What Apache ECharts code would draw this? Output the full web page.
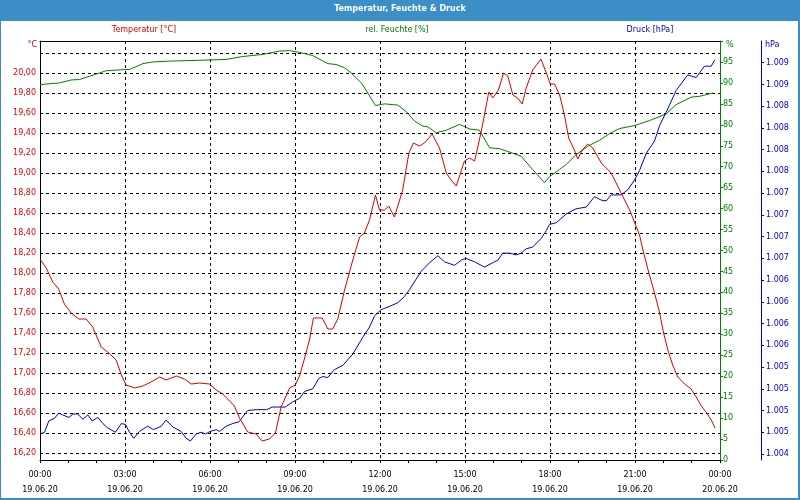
<!DOCTYPE html>
<html><head><meta charset="utf-8">
<script src="https://cdn.jsdelivr.net/npm/echarts@6/dist/echarts.min.js"></script>
<style>html,body{margin:0;padding:0;background:#fff}#c{width:800px;height:500px}</style>
</head><body><div id="c"></div>
<script>
const chartTitle = 'Temperatur, Feuchte & Druck';
const seriesNames = ['Temperatur [°C]', 'rel. Feuchte [%]', 'Druck [hPa]'];
const unitLabels = ['°C', '%', 'hPa'];
const timeLabels = ['00:00','03:00','06:00','09:00','12:00','15:00','18:00','21:00','00:00'];
const dateLabels = ['19.06.20','19.06.20','19.06.20','19.06.20','19.06.20','19.06.20','19.06.20','19.06.20','20.06.20'];

const tempHours = [0,0.22,0.45,0.66,0.86,1.10,1.37,1.63,1.86,2.16,
 2.39,2.69,2.87,3.04,3.34,3.63,3.92,4.22,4.45,4.81,
 5.10,5.34,5.63,5.98,6.22,6.45,6.69,6.86,7.04,7.33,
 7.63,7.84,8.10,8.31,8.51,8.81,9.01,9.16,9.34,9.51,
 9.65,9.96,10.16,10.33,10.51,10.75,11.04,11.28,11.45,11.63,
 11.84,11.98,12.16,12.31,12.51,12.80,13.02,13.18,13.39,13.57,
 13.84,14.10,14.34,14.51,14.69,14.98,15.16,15.34,15.57,15.84,
 15.98,16.18,16.36,16.51,16.69,16.86,17.02,17.16,17.39,17.68,
 17.87,18.01,18.16,18.34,18.51,18.66,18.86,18.98,19.14,19.33,
 19.51,19.81,20.16,20.51,20.81,20.98,21.16,21.28,21.49,21.69,
 21.87,22.01,22.16,22.33,22.51,22.75,22.98,23.16,23.34,23.53,
 23.69,23.83];
const tempValues = [18.14,18.05,17.91,17.84,17.69,17.60,17.54,17.54,17.46,17.26,
 17.21,17.13,16.98,16.88,16.85,16.87,16.91,16.96,16.93,16.97,
 16.94,16.89,16.90,16.89,16.83,16.79,16.72,16.67,16.55,16.41,
 16.39,16.32,16.34,16.40,16.66,16.85,16.88,16.97,17.15,17.33,
 17.55,17.55,17.44,17.44,17.54,17.83,18.13,18.36,18.40,18.53,
 18.78,18.63,18.63,18.67,18.56,18.83,19.20,19.30,19.27,19.30,
 19.39,19.25,19.00,18.93,18.87,19.12,19.15,19.12,19.41,19.81,
 19.75,19.83,20.00,19.97,19.78,19.75,19.69,19.85,20.03,20.14,
 20.00,19.89,19.89,19.78,19.58,19.35,19.23,19.14,19.23,19.29,
 19.25,19.10,19.00,18.80,18.63,18.51,18.38,18.23,18.00,17.80,
 17.60,17.40,17.23,17.08,16.96,16.89,16.84,16.76,16.67,16.60,
 16.53,16.45];

const humHours = [0,0.69,1.10,1.39,1.75,1.98,2.34,3.04,3.16,3.63,
 3.98,4.57,5.63,6.57,7.16,7.86,8.45,8.81,9.16,9.63,
 10.16,10.45,10.75,10.98,11.34,11.57,11.84,12.16,12.63,12.92,
 13.22,13.51,13.69,13.98,14.34,14.81,15.16,15.51,15.87,16.22,
 16.69,16.98,17.39,17.81,17.98,18.33,18.57,18.92,19.39,19.75,
 20.10,20.45,20.98,21.51,22.10,22.45,22.98,23.28,23.75];
const humValues = [89.6,90.0,90.7,90.8,91.6,92.1,92.9,93.2,93.2,94.6,
 95.0,95.2,95.4,95.6,96.3,96.8,97.6,97.7,97.3,96.5,
 94.6,94.4,93.6,92.4,90.0,87.6,84.6,85.0,84.7,83.2,
 80.9,79.7,79.5,78.1,78.7,80.1,79.0,78.7,74.5,74.3,
 73.2,72.5,69.3,66.2,67.6,69.3,70.5,72.9,75.1,76.3,
 77.9,79.1,79.8,81.0,82.6,84.8,86.6,86.8,87.6];

const presHours = [0,0.16,0.31,0.51,0.66,0.80,1.02,1.16,1.33,1.51,
 1.69,1.84,2.04,2.22,2.39,2.66,2.87,3.01,3.16,3.31,
 3.51,3.80,4.01,4.28,4.45,4.69,4.98,5.16,5.31,5.51,
 5.69,5.84,6.01,6.22,6.34,6.57,6.80,7.02,7.33,7.63,
 8.00,8.20,8.39,8.66,8.92,9.16,9.34,9.63,9.84,9.98,
 10.16,10.39,10.69,11.04,11.39,11.63,11.81,12.04,12.28,12.63,
 12.86,13.04,13.45,13.75,14.04,14.28,14.63,14.87,15.04,15.34,
 15.69,15.98,16.16,16.33,16.57,16.81,16.98,17.16,17.39,17.69,
 17.87,17.98,18.22,18.57,18.92,19.28,19.57,19.81,19.98,20.16,
 20.51,20.75,20.98,21.16,21.40,21.69,21.87,22.10,22.45,22.86,
 23.16,23.45,23.69,23.81];
const presValues = [1004.63,1004.65,1004.78,1004.81,1004.87,1004.85,1004.82,1004.86,1004.86,1004.80,
 1004.85,1004.78,1004.82,1004.75,1004.70,1004.65,1004.75,1004.74,1004.65,1004.58,
 1004.66,1004.72,1004.68,1004.72,1004.79,1004.71,1004.66,1004.58,1004.55,1004.63,
 1004.65,1004.63,1004.66,1004.68,1004.66,1004.72,1004.75,1004.77,1004.90,1004.91,
 1004.91,1004.94,1004.94,1004.94,1005.00,1005.04,1005.12,1005.15,1005.27,1005.29,
 1005.28,1005.37,1005.42,1005.55,1005.74,1005.86,1005.99,1006.06,1006.09,1006.14,
 1006.21,1006.29,1006.50,1006.60,1006.68,1006.61,1006.57,1006.63,1006.65,1006.61,
 1006.55,1006.60,1006.63,1006.71,1006.71,1006.69,1006.71,1006.76,1006.78,1006.88,
 1006.97,1007.04,1007.06,1007.16,1007.22,1007.24,1007.36,1007.32,1007.31,1007.38,
 1007.38,1007.44,1007.55,1007.66,1007.86,1008.00,1008.18,1008.33,1008.58,1008.76,
 1008.73,1008.86,1008.86,1008.93];

const FONT = 'DejaVu Sans';
const RED = '#dd0000', GREEN = '#008000', BLUE = '#0000cc', BAR = '#3c8ec6';
const zip = (a, b) => a.map((v, i) => [v, b[i]]);
const dash = { type: [3, 3], color: '#000', width: 1 };
const noZero = { onZero: false };

const chart = echarts.init(document.getElementById('c'), null, { renderer: 'canvas' });
chart.setOption({
  animation: false,
  backgroundColor: '#ffffff',
  textStyle: { fontFamily: FONT },
  grid: [
    { left: 40, right: 80, top: 41, bottom: 40 },   // frame / time / humidity
    { left: 40, right: 80, top: 53, bottom: 47 },   // temperature
    { left: 40, right: 80, top: 41, bottom: 46 }    // pressure
  ],
  xAxis: [
    { gridIndex: 0, type: 'value', min: 0, max: 24, interval: 3, position: 'bottom',
      axisLine: { onZero: false, lineStyle: { color: '#000', width: 1 } },
      axisTick: { show: true, length: 3, lineStyle: { color: '#000' } },
      minorTick: { show: true, splitNumber: 3, length: 3, lineStyle: { color: '#000' } },
      axisLabel: { color: '#000', fontSize: 8, fontFamily: FONT, lineHeight: 15, margin: 7,
        formatter: v => { const i = Math.round(v / 3); return timeLabels[i] + '\n' + dateLabels[i]; } },
      splitLine: { show: true, lineStyle: dash } },
    { gridIndex: 0, type: 'value', min: 0, max: 24, position: 'top',
      axisLine: { onZero: false, lineStyle: { color: '#000' } }, axisTick: { show: false }, axisLabel: { show: false }, splitLine: { show: false } },
    { gridIndex: 1, type: 'value', min: 0, max: 24, show: false, axisLine: noZero },
    { gridIndex: 2, type: 'value', min: 0, max: 24, show: false, axisLine: noZero }
  ],
  yAxis: [
    { gridIndex: 0, type: 'value', min: 0, max: 1, position: 'left',
      axisLine: { show: true, onZero: false, lineStyle: { color: '#000' } }, axisTick: { show: false }, axisLabel: { show: false }, splitLine: { show: false } },
    { gridIndex: 0, type: 'value', min: 0, max: 100, interval: 5, position: 'right',
      axisLine: { show: true, onZero: false, lineStyle: { color: GREEN } },
      axisTick: { show: true, length: 3, lineStyle: { color: GREEN } },
      axisLabel: { color: GREEN, fontSize: 8, fontFamily: FONT, margin: 3, formatter: v => v === 100 ? '' : String(v) },
      splitLine: { show: false } },
    { gridIndex: 0, type: 'value', min: 0, max: 1, position: 'right', offset: 41,
      axisLine: { show: true, onZero: false, lineStyle: { color: BLUE } }, axisTick: { show: false }, axisLabel: { show: false }, splitLine: { show: false } },
    { gridIndex: 1, type: 'value', min: 16.2, max: 20.2, interval: 0.2, position: 'left',
      axisLine: { show: false, onZero: false }, axisTick: { show: false },
      axisLabel: { color: RED, fontSize: 8, fontFamily: FONT, margin: 4, showMaxLabel: false,
        formatter: v => v.toFixed(2).replace('.', ',') },
      splitLine: { show: true, lineStyle: dash } },
    { gridIndex: 2, type: 'value', min: 1004.4, max: 1009.15, interval: 0.25, position: 'right', offset: 41,
      axisLine: { show: false, onZero: false },
      axisTick: { show: true, length: 3, lineStyle: { color: BLUE } },
      axisLabel: { color: BLUE, fontSize: 8, fontFamily: FONT, margin: 5, showMaxLabel: false,
        formatter: v => { const r = String(Math.round(v)); return r.slice(0, r.length - 3) + '.' + r.slice(-3); } },
      splitLine: { show: false } }
  ],
  graphic: [
    { type: 'rect', left: 0, top: 0, shape: { width: 800, height: 21 }, style: { fill: BAR }, silent: true },
    { type: 'rect', x: 0, y: 0, shape: { x: 0, y: 0, width: 799, height: 499 }, style: { fill: 'none', stroke: BAR, lineWidth: 2 }, silent: true },
    { type: 'text', x: 400, y: 9, style: { text: chartTitle, fill: '#fff', font: 'bold 8px "DejaVu Sans"', align: 'center', verticalAlign: 'middle' } },
    { type: 'text', x: 144, y: 30, style: { text: seriesNames[0], fill: RED, font: '8px "DejaVu Sans"', align: 'center', verticalAlign: 'middle' } },
    { type: 'text', x: 397, y: 30, style: { text: seriesNames[1], fill: GREEN, font: '8px "DejaVu Sans"', align: 'center', verticalAlign: 'middle' } },
    { type: 'text', x: 650, y: 30, style: { text: seriesNames[2], fill: BLUE, font: '8px "DejaVu Sans"', align: 'center', verticalAlign: 'middle' } },
    { type: 'text', x: 37, y: 45, style: { text: unitLabels[0], fill: RED, font: '8px "DejaVu Sans"', align: 'right', verticalAlign: 'middle' } },
    { type: 'text', x: 726, y: 45, style: { text: unitLabels[1], fill: GREEN, font: '8px "DejaVu Sans"', align: 'left', verticalAlign: 'middle' } },
    { type: 'text', x: 765, y: 45, style: { text: unitLabels[2], fill: BLUE, font: '8px "DejaVu Sans"', align: 'left', verticalAlign: 'middle' } }
  ],
  series: [
    { name: seriesNames[1], type: 'line', xAxisIndex: 0, yAxisIndex: 1, data: zip(humHours, humValues),
      showSymbol: false, symbol: 'none', lineStyle: { color: GREEN, width: 1 }, z: 3 },
    { name: seriesNames[2], type: 'line', xAxisIndex: 3, yAxisIndex: 4, data: zip(presHours, presValues),
      showSymbol: false, symbol: 'none', lineStyle: { color: BLUE, width: 1 }, z: 3 },
    { name: seriesNames[0], type: 'line', xAxisIndex: 2, yAxisIndex: 3, data: zip(tempHours, tempValues),
      showSymbol: false, symbol: 'none', lineStyle: { color: RED, width: 1 }, z: 4 }
  ]
});
</script></body></html>
